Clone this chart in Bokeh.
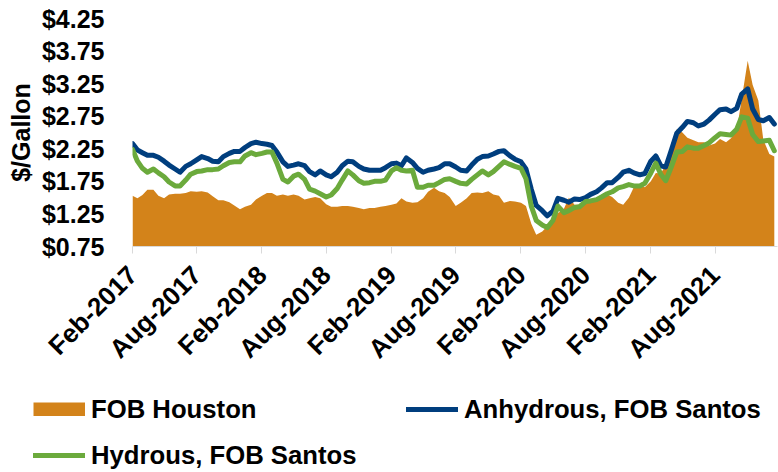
import pandas as pd
from math import pi
from bokeh.plotting import figure
from bokeh.models import (FixedTicker, NumeralTickFormatter, DatetimeTickFormatter,
                          Legend, LegendItem, Range1d, ColumnDataSource)
from bokeh.embed import file_html
from bokeh.resources import INLINE

# ---- data (semi-monthly readings, Feb-2017 .. Jan-2022) ----
dates = pd.date_range("2017-02-01", periods=120, freq="SMS")

houston = [1.53, 1.49, 1.54, 1.62, 1.62, 1.53, 1.49, 1.55, 1.56, 1.56,
           1.57, 1.60, 1.59, 1.60, 1.58, 1.52, 1.46, 1.46, 1.43, 1.38,
           1.32, 1.36, 1.39, 1.47, 1.53, 1.57, 1.57, 1.53, 1.55, 1.53,
           1.55, 1.53, 1.47, 1.49, 1.51, 1.49, 1.40, 1.36, 1.36, 1.37,
           1.37, 1.36, 1.34, 1.32, 1.34, 1.34, 1.36, 1.37, 1.39, 1.41,
           1.49, 1.44, 1.42, 1.43, 1.49, 1.59, 1.65, 1.60, 1.57, 1.51,
           1.37, 1.42, 1.49, 1.57, 1.58, 1.57, 1.60, 1.55, 1.53, 1.42,
           1.45, 1.44, 1.42, 1.37, 1.10, 0.93, 0.98, 1.06, 1.15, 1.26,
           1.33, 1.50, 1.39, 1.39, 1.41, 1.44, 1.45, 1.52, 1.55, 1.51,
           1.42, 1.39, 1.50, 1.66, 1.70, 1.66, 1.75, 1.88, 1.87, 2.00,
           2.28, 2.55, 2.50, 2.42, 2.38, 2.35, 2.35, 2.30, 2.33, 2.40,
           2.35, 2.41, 2.53, 3.01, 3.60, 3.23, 2.99, 2.39, 2.17, 2.13]

anhydrous = [2.33, 2.23, 2.19, 2.15, 2.15, 2.12, 2.06, 2.00, 1.94, 1.89,
             1.98, 2.02, 2.08, 2.13, 2.10, 2.06, 2.05, 2.13, 2.18, 2.21,
             2.21, 2.27, 2.33, 2.35, 2.33, 2.32, 2.30, 2.20, 2.05, 1.98,
             2.00, 2.02, 1.99, 1.90, 1.85, 1.91, 1.85, 1.82, 1.89, 1.99,
             2.06, 2.05, 1.98, 1.94, 1.92, 1.92, 1.92, 1.96, 2.02, 2.03,
             1.99, 2.11, 2.04, 1.95, 1.89, 1.92, 1.94, 1.96, 2.02, 2.02,
             1.97, 1.92, 1.91, 2.00, 2.09, 2.13, 2.14, 2.17, 2.21, 2.22,
             2.14, 2.09, 2.05, 1.94, 1.63, 1.38, 1.30, 1.22, 1.29, 1.49,
             1.46, 1.43, 1.48, 1.47, 1.50, 1.55, 1.59, 1.65, 1.73, 1.73,
             1.81, 1.89, 1.92, 1.88, 1.85, 1.87, 2.06, 2.14, 1.99, 1.97,
             2.25, 2.49, 2.58, 2.67, 2.65, 2.60, 2.63, 2.69, 2.78, 2.85,
             2.86, 2.82, 2.87, 3.09, 3.17, 2.86, 2.70, 2.68, 2.73, 2.63]

hydrous = [2.24, 2.06, 1.95, 1.89, 1.94, 1.88, 1.82, 1.74, 1.68, 1.68,
           1.77, 1.86, 1.90, 1.91, 1.93, 1.93, 1.94, 1.99, 2.04, 2.05,
           2.05, 2.14, 2.19, 2.16, 2.18, 2.20, 2.20, 2.03, 1.78, 1.74,
           1.83, 1.86, 1.78, 1.63, 1.60, 1.56, 1.51, 1.54, 1.64, 1.77,
           1.91, 1.85, 1.76, 1.72, 1.73, 1.75, 1.75, 1.77, 1.91, 1.96,
           1.92, 1.91, 1.92, 1.66, 1.66, 1.69, 1.69, 1.73, 1.78, 1.79,
           1.75, 1.72, 1.71, 1.78, 1.85, 1.91, 1.85, 1.90, 1.98, 2.05,
           2.01, 1.98, 1.95, 1.79, 1.37, 1.15, 1.08, 1.04, 1.15, 1.37,
           1.27, 1.30, 1.35, 1.36, 1.44, 1.45, 1.47, 1.51, 1.56, 1.59,
           1.65, 1.67, 1.70, 1.68, 1.68, 1.72, 1.88, 2.03, 1.86, 1.76,
           1.99, 2.20, 2.21, 2.28, 2.26, 2.26, 2.30, 2.34, 2.42, 2.48,
           2.47, 2.46, 2.55, 2.74, 2.72, 2.47, 2.36, 2.37, 2.38, 2.22]

tick_dates = ["2017-02-01", "2017-08-01", "2018-02-01", "2018-08-01",
              "2019-02-01", "2019-08-01", "2020-02-01", "2020-08-01",
              "2021-02-01", "2021-08-01"]
y_ticks = [0.75, 1.25, 1.75, 2.25, 2.75, 3.25, 3.75, 4.25]

series_names = ["FOB Houston", "Anhydrous, FOB Santos", "Hydrous, FOB Santos"]

ORANGE = "#D3831A"
BLUE = "#003E7E"
GREEN = "#6BAA3C"
FONT = "Liberation Sans"
LW = 5

src = ColumnDataSource(data=dict(date=dates, houston=houston,
                                 anhydrous=anhydrous, hydrous=hydrous))

x_start = pd.Timestamp("2017-02-01")
x_end = pd.Timestamp("2022-01-24")

# ---------------- main chart ----------------
p = figure(x_axis_type="datetime",
           width=778, height=380,
           min_border_left=132, min_border_right=1,
           min_border_top=18, min_border_bottom=134,
           x_range=Range1d(x_start, x_end), y_range=Range1d(0.75, 4.25),
           output_backend="svg", toolbar_location=None)
p.varea(x="date", y1=0, y2="houston", source=src, fill_color=ORANGE)
p.line(x="date", y="anhydrous", source=src, line_color=BLUE,
       line_width=LW, line_join="round", line_cap="round")
p.line(x="date", y="hydrous", source=src, line_color=GREEN,
       line_width=LW, line_join="round", line_cap="round")

tick_ms = [pd.Timestamp(d).timestamp() * 1000 for d in tick_dates]
p.xaxis.ticker = FixedTicker(ticks=tick_ms)
fmt = "%b-%Y"
p.xaxis.formatter = DatetimeTickFormatter(days=fmt, months=fmt, years=fmt,
                                          hours=fmt, minutes=fmt)
p.xaxis.major_label_orientation = pi / 4
p.xaxis.axis_line_color = "#D9D9D9"
p.xaxis.major_tick_line_color = "#D9D9D9"
p.xaxis.major_tick_out = 7
p.xaxis.major_tick_in = 0
p.xaxis.minor_tick_line_color = None
p.xaxis.major_label_standoff = 17

p.yaxis.ticker = FixedTicker(ticks=y_ticks)
p.yaxis.formatter = NumeralTickFormatter(format="$0.00")
p.yaxis.axis_line_color = None
p.yaxis.major_tick_line_color = None
p.yaxis.minor_tick_line_color = None
p.yaxis.major_label_standoff = 22
p.yaxis.axis_label = "$/Gallon"
p.yaxis.axis_label_standoff = 4

for ax in (p.xaxis, p.yaxis):
    ax.major_label_text_font = FONT
    ax.major_label_text_font_style = "bold"
    ax.major_label_text_font_size = "25px"
    ax.major_label_text_color = "black"
    ax.axis_label_text_font = FONT
    ax.axis_label_text_font_style = "bold"
    ax.axis_label_text_font_size = "25px"
    ax.axis_label_text_color = "black"
p.xaxis.major_label_text_font_size = "26px"

p.xgrid.visible = False
p.ygrid.visible = False
p.outline_line_color = None
p.background_fill_color = "white"
p.border_fill_color = "white"

# ---------------- legend strip (separate root, series drawn out of view) ----
pl = figure(width=778, height=92, min_border=0,
            x_range=Range1d(x_start, x_end), y_range=Range1d(10, 11),
            x_axis_location=None, y_axis_location=None,
            output_backend="svg", toolbar_location=None)
lh = pl.line(x="date", y="houston", source=src, line_color=ORANGE,
             line_width=14, line_cap="butt")
la = pl.line(x="date", y="anhydrous", source=src, line_color=BLUE,
             line_width=LW, line_cap="round")
lg = pl.line(x="date", y="hydrous", source=src, line_color=GREEN,
             line_width=LW, line_cap="round")
pl.xgrid.visible = False
pl.ygrid.visible = False
pl.outline_line_color = None
pl.background_fill_color = "white"
pl.border_fill_color = "white"

legend = Legend(items=[LegendItem(label=series_names[0], renderers=[lh]),
                       LegendItem(label=series_names[1], renderers=[la]),
                       LegendItem(label=series_names[2], renderers=[lg])],
                orientation="horizontal", ncols=2,
                location=(33, 2),
                glyph_width=52, glyph_height=14, label_standoff=6,
                label_width=299, label_height=30, spacing=16,
                padding=0, margin=0,
                label_text_font=FONT, label_text_font_style="bold",
                label_text_font_size="25.7px", label_text_color="black",
                border_line_alpha=0, background_fill_alpha=0)
pl.add_layout(legend)

open("out.html", "w").write(file_html([p, pl], INLINE))
